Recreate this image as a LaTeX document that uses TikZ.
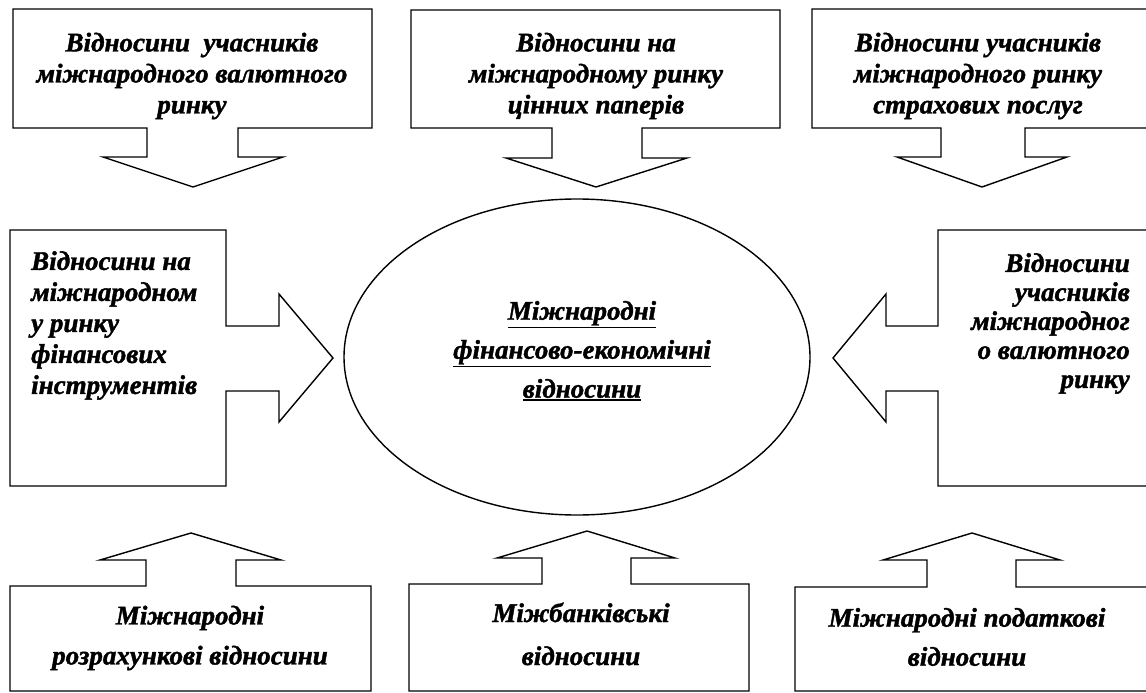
\documentclass[tikz,border=0pt]{standalone}
\usepackage{fontspec}
\setmainfont{Liberation Serif}[BoldItalicFeatures={FakeBold=1.5}]
\usetikzlibrary{shapes.geometric}

\newcommand\thickul[1]{\setbox0\hbox{#1}\leavevmode
  \rlap{\rule[-\dimexpr\dp0+3pt\relax]{\wd0}{1.6pt}}\box0}

\tikzset{
  callout/.style={draw=black, line width=1.4pt, line join=miter, fill=white},
  lbl/.style={font=\fontsize{27}{31}\selectfont\bfseries\itshape, inner sep=0pt, align=center},
}

\begin{document}
\begin{tikzpicture}[x=1pt,y=-1pt]
\useasboundingbox (0,0) rectangle (1146,693);
\clip (0,0) rectangle (1146,693);

% top row
\draw[callout] (13,9) -- (372,9) -- (372,128) -- (238,128) -- (238,157) -- (283,157)
  -- (193,187) -- (103,157) -- (147,157) -- (147,128) -- (13,128) -- cycle;
\draw[callout] (411,10) -- (780,10) -- (780,128) -- (642,128) -- (642,158) -- (687,158)
  -- (596,187) -- (506,158) -- (552,158) -- (552,128) -- (411,128) -- cycle;
\draw[callout] (812,9) -- (1160,9) -- (1160,128) -- (1025,128) -- (1025,157) -- (1067,157)
  -- (982,187) -- (897,157) -- (941,157) -- (941,128) -- (812,128) -- cycle;

% side callouts
\draw[callout] (10,230) -- (226,230) -- (226,326) -- (279,326) -- (279,294)
  -- (333,358) -- (279,422) -- (279,391) -- (226,391) -- (226,486) -- (10,486) -- cycle;
\draw[callout] (1160,230) -- (938,230) -- (938,326) -- (886,326) -- (886,294)
  -- (833,358) -- (886,422) -- (886,391) -- (938,391) -- (938,486) -- (1160,486) -- cycle;

% bottom row
\draw[callout] (10,691) -- (371,691) -- (371,586) -- (236,586) -- (236,560) -- (281,560)
  -- (191,533) -- (100,560) -- (146,560) -- (146,586) -- (10,586) -- cycle;
\draw[callout] (409,691) -- (749,691) -- (749,584) -- (631,584) -- (631,558) -- (675,558)
  -- (587,531) -- (497,558) -- (542,558) -- (542,584) -- (409,584) -- cycle;
\draw[callout] (795,691) -- (1160,691) -- (1160,587) -- (1016,587) -- (1016,560) -- (1060,560)
  -- (972,533) -- (883,560) -- (927,560) -- (927,587) -- (795,587) -- cycle;

% centre
\node[ellipse, draw, line width=1.4pt, minimum width=466, minimum height=316,
  inner sep=0pt] (fin) at (577,357) {};
\node[lbl, font=\fontsize{27}{39}\selectfont\bfseries\itshape] (fintxt) at (582,351)
  {\thickul{Міжнародні}\\\thickul{фінансово-економічні}\\\thickul{відносини}};

\node[lbl] (valuta) at (192,76) {Відносини~ учасників\\міжнародного валютного\\ринку};
\node[lbl] (papery) at (596,76) {Відносини на\\міжнародному ринку\\цінних паперів};
\node[lbl] (strakh) at (978,76) {Відносини учасників\\міжнародного ринку\\страхових послуг};

\node[lbl, align=left, anchor=north west] (instr) at (31,251)
  {Відносини на\\міжнародном\\у ринку\\фінансових\\інструментів};
\node[lbl, align=right, anchor=north east, font=\fontsize{27}{29}\selectfont\bfseries\itshape]
  (valuta2) at (1130,253) {Відносини\\учасників\\міжнародног\\о валютного\\ринку};

\node[lbl, font=\fontsize{27}{40}\selectfont\bfseries\itshape] (rozrakh) at (190,638)
  {Міжнародні\\розрахункові відносини};
\node[lbl, font=\fontsize{27}{43}\selectfont\bfseries\itshape] (bank) at (581,634)
  {Міжбанківські\\відносини};
\node[lbl, font=\fontsize{27}{39}\selectfont\bfseries\itshape] (podatok) at (967,637)
  {Міжнародні податкові\\відносини};
\end{tikzpicture}
\end{document}
